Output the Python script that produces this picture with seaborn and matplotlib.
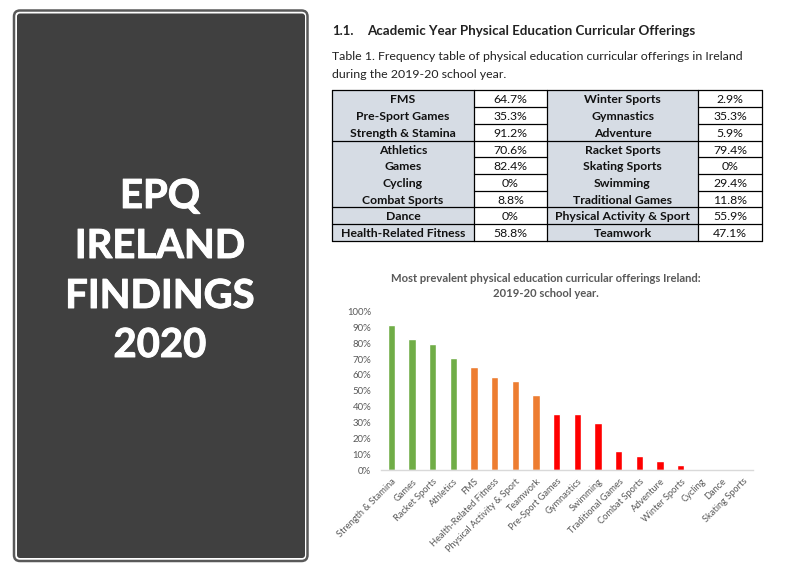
import matplotlib
matplotlib.use("Agg")
import matplotlib.pyplot as plt
from matplotlib.patches import FancyBboxPatch, Rectangle
import matplotlib.patheffects as pe
import pandas as pd
import seaborn as sns

# chart data
categories = ["Strength & Stamina", "Games", "Racket Sports", "Athletics", "FMS",
              "Health-Related Fitness", "Physical Activity & Sport", "Teamwork",
              "Pre-Sport Games", "Gymnastics", "Swimming", "Traditional Games",
              "Combat Sports", "Adventure", "Winter Sports", "Cycling", "Dance",
              "Skating Sports"]
values = [91.2, 82.4, 79.4, 70.6, 64.7, 58.8, 55.9, 47.1, 35.3, 35.3, 29.4, 11.8,
          8.8, 5.9, 2.9, 0, 0, 0]
bar_groups = ["high"] * 4 + ["mid"] * 4 + ["low"] * 10
group_colors = {"high": "#70AD47", "mid": "#ED7D31", "low": "#FF0000"}

# table data
left_names = ["FMS", "Pre-Sport Games", "Strength & Stamina", "Athletics", "Games",
              "Cycling", "Combat Sports", "Dance", "Health-Related Fitness"]
left_vals = ["64.7%", "35.3%", "91.2%", "70.6%", "82.4%", "0%", "8.8%", "0%", "58.8%"]
right_names = ["Winter Sports", "Gymnastics", "Adventure", "Racket Sports", "Skating Sports",
               "Swimming", "Traditional Games", "Physical Activity & Sport", "Teamwork"]
right_vals = ["2.9%", "35.3%", "5.9%", "79.4%", "0%", "29.4%", "11.8%", "55.9%", "47.1%"]

panel_lines = ["EPQ", "IRELAND", "FINDINGS", "2020"]

sns.set_theme(style="white")
plt.rcParams["font.family"] = ["Lato", "DejaVu Sans"]

fig = plt.figure(figsize=(7.92, 5.68), dpi=100, facecolor="white")

# page layer in pixel coordinates
page = fig.add_axes([0, 0, 1, 1])
page.set_xlim(0, 792)
page.set_ylim(568, 0)
page.axis("off")

page.add_patch(FancyBboxPatch((17, 13.5), 288, 544.5, boxstyle="round,pad=0,rounding_size=3",
                              fc="#404040", ec="none"))
page.add_patch(FancyBboxPatch((14, 10.5), 293.5, 550.5, boxstyle="round,pad=0,rounding_size=6",
                              fc="none", ec="#595959", lw=1.8))
for y, line in zip([208, 258, 308, 357], panel_lines):
    page.text(160, y, line, color="white", fontsize=28.8, fontweight="bold",
              ha="center", va="baseline",
              path_effects=[pe.withStroke(linewidth=0.7, foreground="white")])

page.text(332, 35, "1.1.", fontsize=9.4, fontweight="bold", color="#222222", va="baseline")
page.text(367, 35, "Academic Year Physical Education Curricular Offerings", fontsize=9.6,
          fontweight="bold", color="#222222", va="baseline")
page.text(332, 60, "Table 1. Frequency table of physical education curricular offerings in Ireland",
          fontsize=8.9, color="#222222", va="baseline")
page.text(332, 78, "during the 2019-20 school year.", fontsize=8.9, color="#222222", va="baseline")

# table
col_x = [332, 474, 547, 698, 762]
row_y = [90, 107, 124, 141, 157, 174, 191, 207, 224, 241]
page.add_patch(Rectangle((col_x[0], row_y[0]), col_x[1] - col_x[0], row_y[-1] - row_y[0],
                         fc="#D6DCE4", ec="none"))
page.add_patch(Rectangle((col_x[2], row_y[0]), col_x[3] - col_x[2], row_y[-1] - row_y[0],
                         fc="#D6DCE4", ec="none"))
for i in range(9):
    ybase = (row_y[i] + row_y[i + 1]) / 2 + 4.5
    page.text((col_x[0] + col_x[1]) / 2, ybase, left_names[i], fontsize=8.8, fontweight="bold",
              color="#111111", ha="center", va="baseline")
    page.text((col_x[1] + col_x[2]) / 2, ybase, left_vals[i], fontsize=8.8,
              color="#111111", ha="center", va="baseline")
    page.text((col_x[2] + col_x[3]) / 2, ybase, right_names[i], fontsize=8.8, fontweight="bold",
              color="#111111", ha="center", va="baseline")
    page.text((col_x[3] + col_x[4]) / 2, ybase, right_vals[i], fontsize=8.8,
              color="#111111", ha="center", va="baseline")
for x in col_x:
    page.plot([x, x], [row_y[0], row_y[-1]], color="black", lw=0.9)
# value columns are ruled on every row, name columns only at the group breaks
for i, y in enumerate(row_y):
    page.plot([col_x[1], col_x[2]], [y, y], color="black", lw=0.9)
    page.plot([col_x[3], col_x[4]], [y, y], color="black", lw=0.9)
    if i in (0, 3, 7, 8, 9):
        page.plot([col_x[0], col_x[1]], [y, y], color="black", lw=0.9)
        page.plot([col_x[2], col_x[3]], [y, y], color="black", lw=0.9)

page.text(546, 282, "Most prevalent physical education curricular offerings Ireland:",
          fontsize=8.1, fontweight="bold", color="#595959", ha="center", va="baseline")
page.text(546, 297, "2019-20 school year.", fontsize=8.1, fontweight="bold",
          color="#595959", ha="center", va="baseline")

# bar chart
ax = fig.add_axes([381 / 792, 1 - 470 / 568, 372 / 792, 158.5 / 568])
ax.patch.set_alpha(0)
df = pd.DataFrame({"category": categories, "value": values, "group": bar_groups})
sns.barplot(data=df, x="category", y="value", hue="group", palette=group_colors,
            dodge=False, width=0.36, saturation=1, legend=False, ax=ax)
ax.set_xlim(-0.5, 17.5)
ax.set_ylim(0, 100)
ax.set_xlabel("")
ax.set_ylabel("")
ax.set_yticks(range(0, 101, 10))
ax.set_yticklabels([f"{v}%" for v in range(0, 101, 10)], fontsize=6.9, color="#595959")
ax.set_xticks(range(len(categories)))
ax.set_xticklabels(categories, fontsize=6.7, color="#595959", rotation=45, ha="right",
                   rotation_mode="anchor")
ax.tick_params(axis="x", length=0, pad=5)
ax.tick_params(axis="y", length=0, pad=7)
sns.despine(ax=ax, left=True, top=True, right=True)
ax.spines["bottom"].set_color("#D9D9D9")
ax.spines["bottom"].set_linewidth(1)

fig.savefig("out.png", dpi=100)
